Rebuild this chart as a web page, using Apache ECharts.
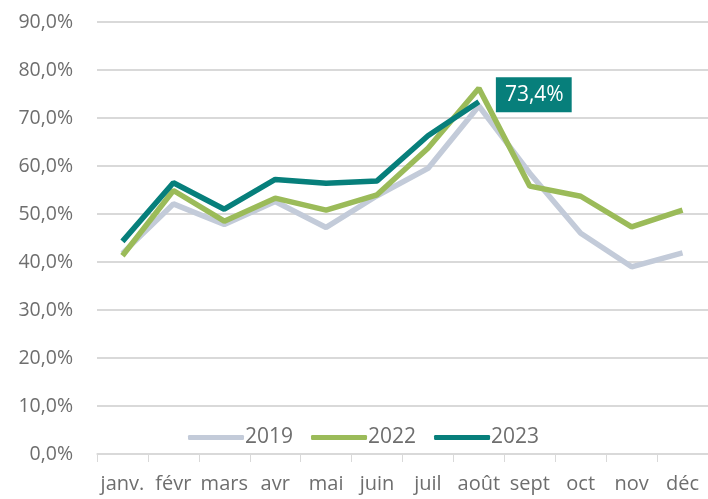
<!DOCTYPE html>
<html>
<head>
<meta charset="utf-8">
<script src="https://cdn.jsdelivr.net/npm/echarts@6/dist/echarts.min.js"></script>
<style>
  html, body { margin: 0; padding: 0; background: #fff; }
  #chart { width: 708px; height: 499px; }
</style>
</head>
<body>
<div id="chart"></div>
<script>
  // mois
  const months = ['janv.', 'févr', 'mars', 'avr', 'mai', 'juin', 'juil', 'août', 'sept', 'oct', 'nov', 'déc'];
  // taux par année (%)
  const v2019 = [41.8, 52.1, 47.8, 52.6, 47.2, 53.8, 59.5, 72.5, 58.5, 46.0, 39.0, 41.9];
  const v2022 = [41.3, 54.9, 48.5, 53.3, 50.8, 54.0, 63.7, 76.2, 55.8, 53.7, 47.3, 50.8];
  const v2023 = [44.3, 56.5, 51.0, 57.2, 56.4, 56.9, 66.3, 73.4];
  const yTicks = [0, 10, 20, 30, 40, 50, 60, 70, 80, 90];

  const fmt = v => v.toFixed(1).replace('.', ',') + '%';
  const txt = '#6e6e6e';
  const font = '"Open Sans", sans-serif';

  let chart = echarts.init(document.getElementById('chart'));
  chart.setOption({
    animation: false,
    textStyle: { fontFamily: font },
    grid: { left: 97, top: 22, width: 616, height: 432 },
    legend: {
      bottom: 46,
      left: 183,
      itemWidth: 56,
      itemHeight: 5,
      itemGap: 18,
      icon: 'roundRect',
      textStyle: { color: txt, fontSize: 21, fontFamily: font, padding: [0, 0, 0, -4] },
      data: ['2019', '2022', '2023']
    },
    xAxis: {
      type: 'category',
      data: months,
      boundaryGap: true,
      axisLine: { lineStyle: { color: '#d9d9d9', width: 1.5 } },
      axisTick: { show: true, length: 8, lineStyle: { color: '#d9d9d9' } },
      axisLabel: { color: txt, fontSize: 20, margin: 20, interval: 0 }
    },
    yAxis: {
      type: 'value',
      min: 0,
      max: 90,
      interval: 10,
      axisLine: { show: false },
      axisTick: { show: false },
      splitLine: { lineStyle: { color: '#d9d9d9', width: 2 } },
      axisLabel: { color: txt, fontSize: 19.5, margin: 24, formatter: v => fmt(v) }
    },
    series: [
      {
        name: '2019', type: 'line', data: v2019, symbol: 'none',
        lineStyle: { color: '#c3cbd9', width: 5.5 }, itemStyle: { color: '#c3cbd9' }
      },
      {
        name: '2022', type: 'line', data: v2022, symbol: 'none',
        lineStyle: { color: '#9bbb59', width: 5.5 }, itemStyle: { color: '#9bbb59' }
      },
      {
        name: '2023', type: 'line', data: v2023, symbol: 'none',
        lineStyle: { color: '#077f7b', width: 5.5 }, itemStyle: { color: '#077f7b' },
        endLabel: {
          show: true,
          formatter: p => fmt(p.value),
          color: '#fff',
          fontSize: 21,
          backgroundColor: '#077f7b',
          padding: [8, 8, 6, 9],
          distance: 17,
          offset: [0, -7]
        }
      }
    ]
  });
</script>
</body>
</html>
